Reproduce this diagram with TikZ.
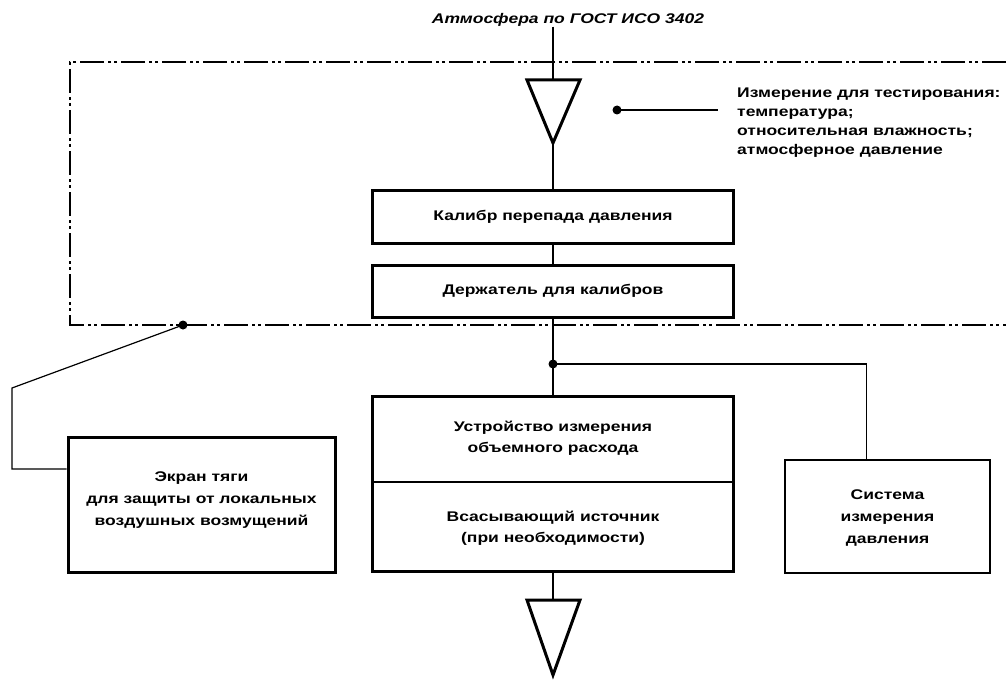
\documentclass[tikz,border=0pt]{standalone}
\usepackage{fontspec}
\setmainfont{Liberation Sans}[FakeStretch=1.25]
\usetikzlibrary{calc}
\begin{document}
\begin{tikzpicture}[x=1pt,y=-1pt,
  txt/.style={font=\fontsize{14}{22}\selectfont\bfseries, align=center, inner sep=0pt},
  heavybox/.style={draw, line width=3pt, inner sep=0pt},
  lightbox/.style={draw, line width=2.2pt, inner sep=0pt},
  conn/.style={line width=1.2pt},
  bnd/.style={line width=2pt, dash pattern=on 24pt off 4pt on 3pt off 3pt on 3pt off 4pt},
  tri/.style={line width=3pt, line join=miter},
  dotc/.style={fill, circle, inner sep=0pt, minimum size=9pt}]
\useasboundingbox (0,0) rectangle (1006,682);

% title
\node[txt, font=\fontsize{14}{20}\selectfont\bfseries\itshape] (ttl) at (568,20) {Атмосфера по ГОСТ ИСО 3402};

% boundary (dash-dot-dot)
\coordinate (bTR) at (1006,62);
\coordinate (bTL) at (70,62);
\coordinate (bBL) at (70,325);
\coordinate (bBR) at (1006,325);
\draw[bnd] (bTR) -- (bTL) -- (bBL) -- (bBR);

% top triangle
\coordinate (t1L) at (527,80);
\coordinate (t1R) at (580,80);
\coordinate (t1top) at (553,80);
\coordinate (t1apex) at (553,143);
\draw[tri] (t1L) -- (t1R) -- (t1apex) -- cycle;

% boxes
\node[heavybox, minimum width=361pt, minimum height=53pt] (k1) at (553,216.5) {};
\node[txt] at (k1.center) {Калибр перепада давления};
\node[heavybox, minimum width=361pt, minimum height=52pt] (k2) at (553,291) {};
\node[txt] at (k2.center) {Держатель для калибров};

\node[lightbox, minimum width=361pt, minimum height=175pt] (ur) at (553,484) {};
\coordinate (divL) at (373,482);
\coordinate (divR) at (734,482);
\draw[conn] (divL) -- (divR);
\node[txt, font=\fontsize{14}{21}\selectfont\bfseries] (ur1) at (553,438) {Устройство измерения\\объемного расхода};
\node[txt, font=\fontsize{14}{21}\selectfont\bfseries] (ur2) at (553,528) {Всасывающий источник\\(при необходимости)};

\node[lightbox, minimum width=205pt, minimum height=113pt] (sys) at (887.5,516.5) {};
\node[txt] at (887.5,518) {Система\\измерения\\давления};

\node[heavybox, minimum width=267pt, minimum height=135pt] (ekr) at (201.5,504.5) {};
\node[txt] at (201.5,500) {Экран тяги\\для защиты от локальных\\воздушных возмущений};

% bottom triangle
\coordinate (t2L) at (527,600);
\coordinate (t2R) at (580,600);
\coordinate (t2top) at (553,600);
\coordinate (t2apex) at (553,675);
\draw[tri] (t2L) -- (t2R) -- (t2apex) -- cycle;

% connectors
\draw[conn] (t1top |- ttl.south) -- (t1top);
\draw[conn] (t1apex) -- (k1.north);
\draw[conn] (k1.south) -- (k2.north);
\draw[conn] (k2.south) -- (ur.north);
\coordinate (j) at (553,364);
\node[dotc] (jd) at (j) {};
\draw[conn] (j) -| ($(sys.north west)!0.4!(sys.north east)$);
\draw[conn] (ur.south) -- (t2top);

% measurement note
\node[dotc] (md) at (617,110) {};
\coordinate (mend) at (718,110);
\draw[conn] (md.center) -- (mend);
\node[txt, align=left, anchor=north west, font=\fontsize{14}{19}\selectfont\bfseries] (meas) at (737,88)
  {Измерение для тестирования:\\температура;\\относительная влажность;\\атмосферное давление};

% screen connector
\coordinate (e1) at (12,469);
\coordinate (e2) at (12,388);
\node[dotc] (bd) at (183,325) {};
\draw[conn] (ekr.west |- e1) -- (e1) -- (e2) -- (bd.center);
\end{tikzpicture}
\end{document}
